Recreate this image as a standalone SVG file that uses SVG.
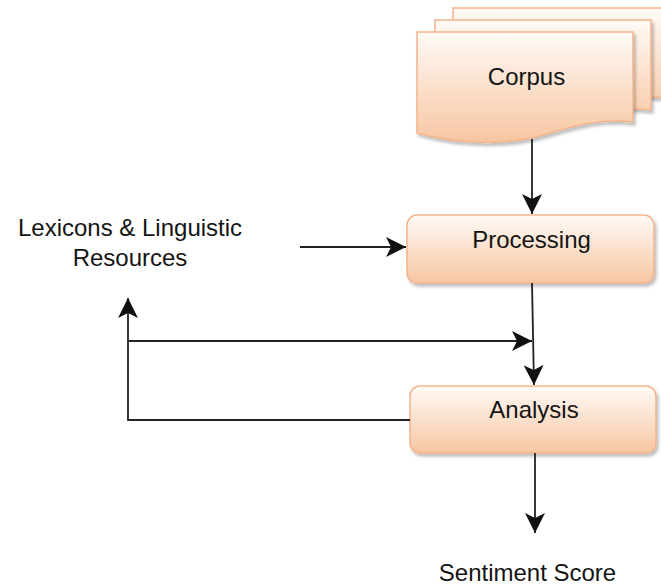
<svg xmlns="http://www.w3.org/2000/svg" width="661" height="587" viewBox="0 0 661 587">
<style>
.shape{fill:url(#peach);stroke:#f2b48c;stroke-width:1.5;filter:url(#sh)}
.lbl{font-family:"Liberation Sans",Arial,sans-serif;font-size:24px;fill:#141414;text-anchor:middle}
.edge{fill:none;stroke:#222;stroke-width:1.8}
</style>
<defs>
<linearGradient id="peach" x1="0" y1="0" x2="0" y2="1">
<stop offset="0" stop-color="#fffaf6"/>
<stop offset="1" stop-color="#f7c6a2"/>
</linearGradient>
<filter id="sh" x="-10%" y="-10%" width="130%" height="140%">
<feDropShadow dx="2" dy="3" stdDeviation="1.5" flood-color="#000" flood-opacity="0.25"/>
</filter>
<marker id="arr" viewBox="0 0 20 20" refX="20" refY="10" markerWidth="20" markerHeight="20" markerUnits="userSpaceOnUse" orient="auto">
<path d="M0,0 L20,10 L0,20 L5,10 Z" fill="#111"/>
</marker>
</defs>
<g id="corpus">
<path class="shape" d="M453,8 H669 V98 C626,94 606,104 576,112 C541,121 496,121 453,109 Z"/>
<path class="shape" d="M435,20 H651 V110 C608,106 588,116 558,124 C523,133 478,133 435,121 Z"/>
<path class="shape" d="M417,32 H633 V122 C590,118 570,128 540,136 C505,145 460,145 417,133 Z"/>
<text class="lbl" x="526.5" y="85">Corpus</text>
</g>
<g id="processing">
<rect class="shape" x="407" y="215" width="247" height="68" rx="10"/>
<text class="lbl" x="531.5" y="248">Processing</text>
</g>
<g id="analysis">
<rect class="shape" x="410" y="386" width="246" height="67" rx="10"/>
<text class="lbl" x="534" y="418">Analysis</text>
</g>
<g id="lexicons">
<text class="lbl" x="130" y="236">Lexicons &amp; Linguistic</text>
<text class="lbl" x="130" y="266">Resources</text>
</g>
<g id="sentiment">
<text class="lbl" x="527.5" y="581">Sentiment Score</text>
</g>
<g id="connectors">
<path class="edge" d="M532,139 V214" marker-end="url(#arr)"/>
<path class="edge" d="M300,247 H406" marker-end="url(#arr)"/>
<path class="edge" d="M532,283 L534,385" marker-end="url(#arr)"/>
<path class="edge" d="M129,341 H532" marker-end="url(#arr)"/>
<path class="edge" d="M410,420 H128 V298" marker-end="url(#arr)"/>
<path class="edge" d="M535,453 V533" marker-end="url(#arr)"/>
</g>
</svg>
